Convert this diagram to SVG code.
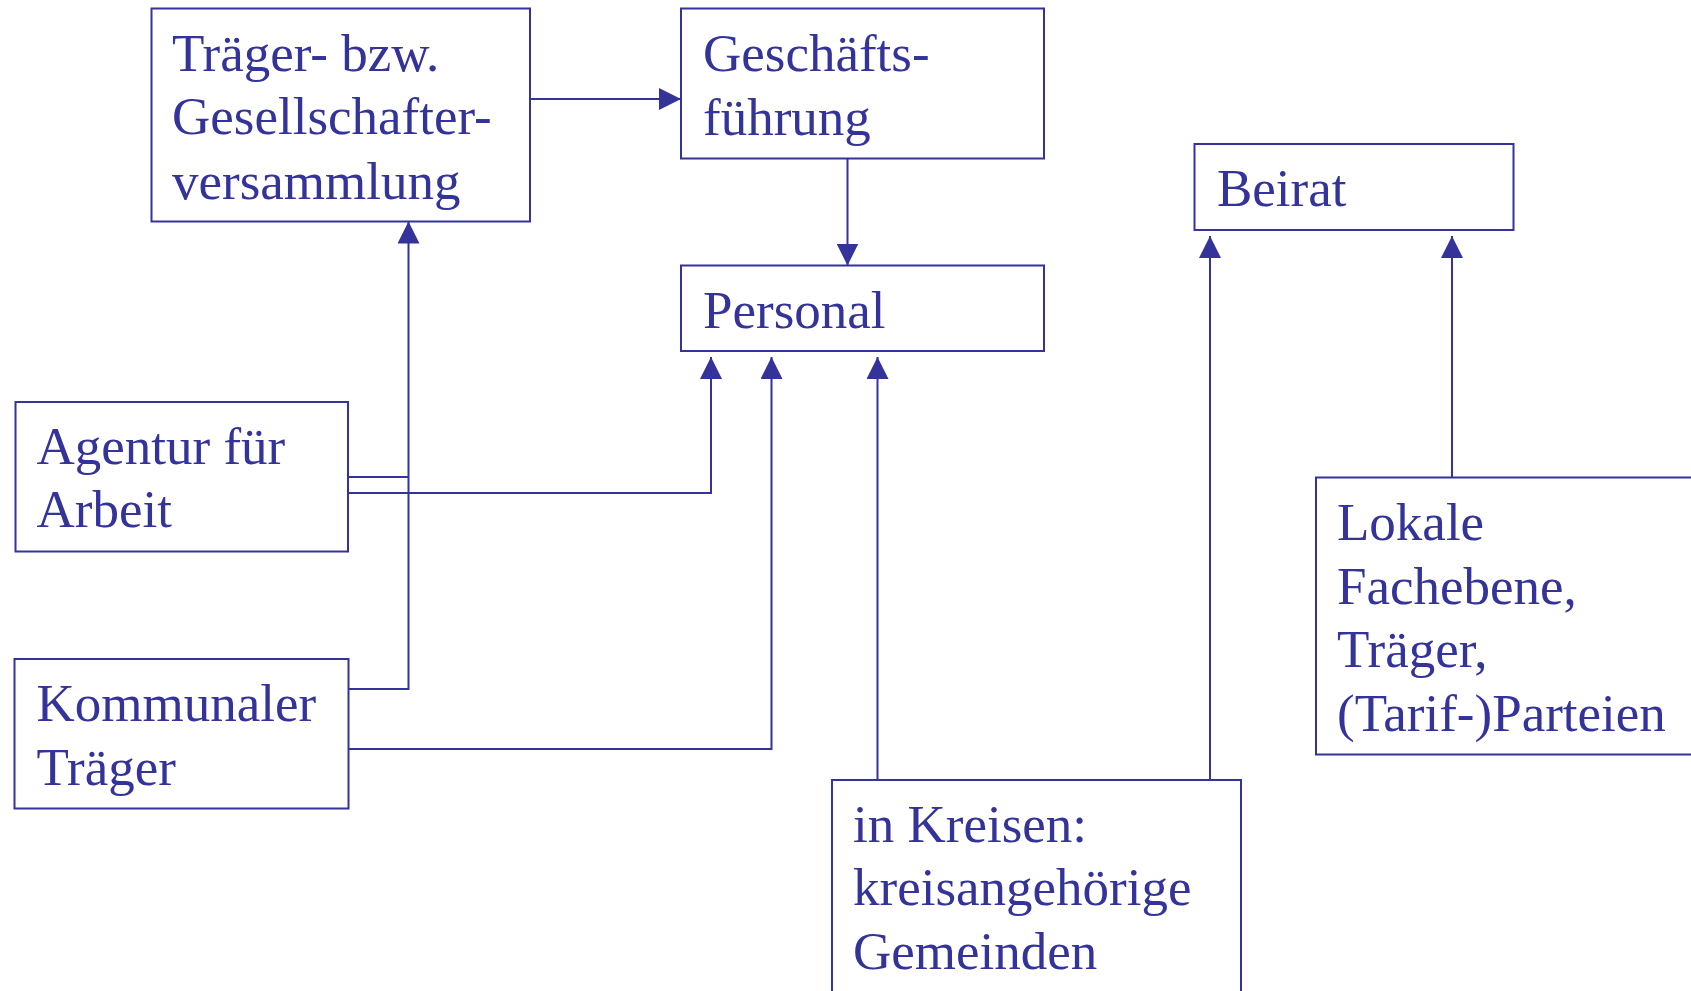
<svg xmlns="http://www.w3.org/2000/svg" width="1691" height="991" viewBox="0 0 1691 991">
  <style>
    .box { fill: #ffffff; stroke: #333399; stroke-width: 2; }
    .edge { fill: none; stroke: #333399; stroke-width: 2; }
    .lbl { font-family: "Liberation Serif", "Times New Roman", serif; font-size: 53px; fill: #333399; }
  </style>
  <defs>
    <marker id="arrow" markerUnits="userSpaceOnUse" markerWidth="22" markerHeight="22" viewBox="0 0 20 20" refX="20" refY="10" orient="auto">
      <path d="M0,0 L20,10 L0,20 Z" fill="#333399"/>
    </marker>
  </defs>
  <rect width="1691" height="991" fill="#ffffff"/>

  <g id="n-versammlung">
    <rect class="box" x="151.5" y="8.5" width="378.5" height="213"/>
    <text class="lbl" x="172" y="70.5">Träger- bzw.</text>
    <text class="lbl" x="172" y="134">Gesellschafter-</text>
    <text class="lbl" x="172" y="198.5">versammlung</text>
  </g>
  <g id="n-geschaeftsfuehrung">
    <rect class="box" x="681" y="8.5" width="363" height="150"/>
    <text class="lbl" x="703" y="70.5">Geschäfts-</text>
    <text class="lbl" x="703" y="135">führung</text>
  </g>
  <g id="n-personal">
    <rect class="box" x="681" y="265.5" width="363" height="85.5"/>
    <text class="lbl" x="703" y="328">Personal</text>
  </g>
  <g id="n-beirat">
    <rect class="box" x="1194.5" y="144" width="319" height="86"/>
    <text class="lbl" x="1217" y="206">Beirat</text>
  </g>
  <g id="n-agentur">
    <rect class="box" x="15.5" y="402" width="332.5" height="149.5"/>
    <text class="lbl" x="36.5" y="464">Agentur für</text>
    <text class="lbl" x="36.5" y="527">Arbeit</text>
  </g>
  <g id="n-kommunal">
    <rect class="box" x="14.5" y="659" width="334" height="149.5"/>
    <text class="lbl" x="36.5" y="721">Kommunaler</text>
    <text class="lbl" x="36.5" y="785">Träger</text>
  </g>
  <g id="n-lokale">
    <rect class="box" x="1316" y="477.5" width="400" height="277"/>
    <text class="lbl" x="1337" y="540">Lokale</text>
    <text class="lbl" x="1337" y="604">Fachebene,</text>
    <text class="lbl" x="1337" y="667">Träger,</text>
    <text class="lbl" x="1337" y="731">(Tarif-)Parteien</text>
  </g>
  <g id="n-kreisen">
    <rect class="box" x="832" y="780" width="409" height="230"/>
    <text class="lbl" x="853" y="842">in Kreisen:</text>
    <text class="lbl" x="853" y="905">kreisangehörige</text>
    <text class="lbl" x="853" y="969">Gemeinden</text>
  </g>

  <g id="connectors">
    <path class="edge" d="M530,99 H681" marker-end="url(#arrow)"/>
    <path class="edge" d="M847.5,158.5 V265.5" marker-end="url(#arrow)"/>
    <path class="edge" d="M348.5,689 H408.5 V221.5" marker-end="url(#arrow)"/>
    <path class="edge" d="M348,477 H408.5"/>
    <path class="edge" d="M348,493 H711 V357" marker-end="url(#arrow)"/>
    <path class="edge" d="M348.5,749 H771.5 V357" marker-end="url(#arrow)"/>
    <path class="edge" d="M877.5,780 V357" marker-end="url(#arrow)"/>
    <path class="edge" d="M1210,780 V236" marker-end="url(#arrow)"/>
    <path class="edge" d="M1452,477.5 V236" marker-end="url(#arrow)"/>
  </g>
</svg>
